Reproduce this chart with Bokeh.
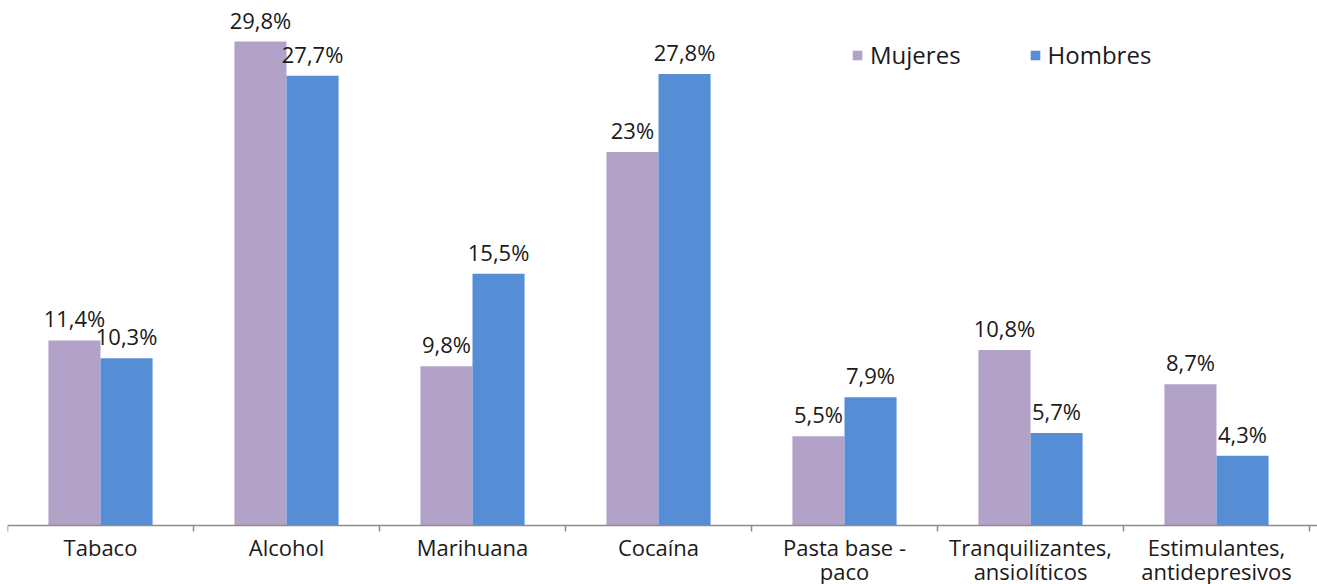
import numpy as np
from bokeh.plotting import figure
from bokeh.models import ColumnDataSource, LabelSet, FixedTicker, Legend, LegendItem, Range1d
from bokeh.core.properties import value
from bokeh.embed import file_html
from bokeh.resources import INLINE

categories = ["Tabaco", "Alcohol", "Marihuana", "Cocaína", "Pasta base -\npaco",
              "Tranquilizantes,\nansiolíticos", "Estimulantes,\nantidepresivos"]
mujeres = [11.4, 29.8, 9.8, 23.0, 5.5, 10.8, 8.7]
hombres = [10.3, 27.7, 15.5, 27.8, 7.9, 5.7, 4.3]
series_names = ["Mujeres", "Hombres"]
colors = ["#B3A2C7", "#558ED5"]

FONT = "Open Sans"
TXT = "#1a1a1a"
n = len(categories)
centers = np.arange(n) + 0.5
bw = 0.28

def fmt(v):
    return f"{v:g}".replace(".", ",") + "%"

src_m = ColumnDataSource(dict(x=centers - bw / 2, top=mujeres, lab=[fmt(v) for v in mujeres]))
src_h = ColumnDataSource(dict(x=centers + bw / 2, top=hombres, lab=[fmt(v) for v in hombres]))

p = figure(width=1317, height=584, output_backend="svg", toolbar_location=None,
           x_range=Range1d(0, n + 0.043), y_range=Range1d(-3.633, 32.33),
           min_border_left=7, min_border_right=0, min_border_top=0, min_border_bottom=0)
p.outline_line_color = None
p.xgrid.visible = False
p.ygrid.visible = False
p.yaxis.visible = False

rm = p.vbar(x="x", top="top", width=bw, bottom=0, source=src_m, color=colors[0], line_color=None)
rh = p.vbar(x="x", top="top", width=bw, bottom=0, source=src_h, color=colors[1], line_color=None)

for s in (src_m, src_h):
    p.add_layout(LabelSet(x="x", y="top", text="lab", source=s, text_align="center",
                          text_baseline="alphabetic", y_offset=13, text_font=value(FONT),
                          text_font_size=value("22px"), text_color=TXT))

ax = p.xaxis[0]
ax.fixed_location = 0
ax.ticker = FixedTicker(ticks=list(centers), minor_ticks=list(range(n + 1)))
ax.major_label_overrides = {float(c): lab for c, lab in zip(centers, categories)}
ax.major_label_text_font = FONT
ax.major_label_text_font_size = "22px"
ax.major_label_text_color = TXT
ax.major_label_text_line_height = 0.8
ax.major_label_standoff = 0
ax.major_tick_line_color = None
ax.major_tick_out = 0
ax.major_tick_in = 0
ax.minor_tick_out = 6
ax.minor_tick_in = 0
ax.minor_tick_line_color = "#8c8c8c"
ax.axis_line_color = "#8c8c8c"
ax.axis_line_width = 1.5
ax.minor_tick_line_width = 1.5

legend = Legend(items=[LegendItem(label=series_names[0], renderers=[rm]),
                       LegendItem(label=series_names[1], renderers=[rh])],
                orientation="horizontal", location=(844, 513),
                label_text_font=FONT, label_text_font_size="24px", label_text_color=TXT,
                glyph_width=12, glyph_height=12, label_standoff=7, spacing=68,
                padding=0, margin=0, border_line_color=None, background_fill_alpha=0)
p.add_layout(legend)

open("out.html", "w").write(file_html(p, INLINE))
